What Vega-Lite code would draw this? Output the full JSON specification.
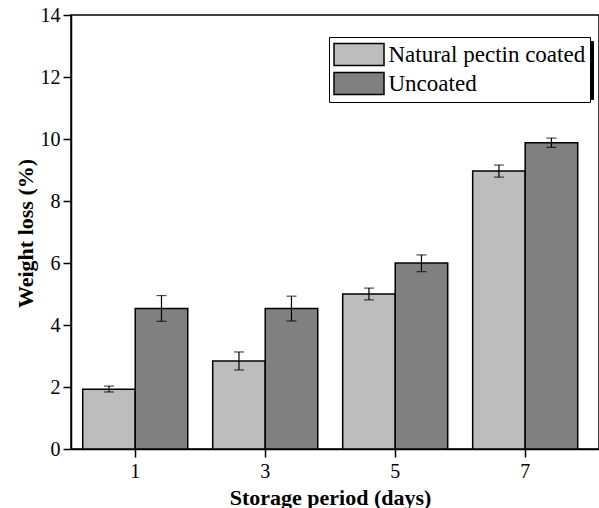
{
  "$schema": "https://vega.github.io/schema/vega-lite/v6.json",
  "autosize": "none",
  "padding": {"left": 71, "top": 15, "right": 0, "bottom": 59},
  "width": 528,
  "height": 434,
  "background": "white",
  "config": {
    "font": "Liberation Serif",
    "view": {"stroke": "black", "strokeWidth": 1.5},
    "axis": {"grid": false, "domainColor": "black", "domainWidth": 1.5, "tickColor": "black", "tickWidth": 1.5, "labelColor": "black", "titleColor": "black", "labelFont": "Liberation Serif", "titleFont": "Liberation Serif", "labelFontSize": 20, "titleFontSize": 22, "titleFontWeight": "bold"},
    "legend": {"labelFont": "Liberation Serif"}
  },
  "data": {"values": [
    {"day": "1", "group": "Natural pectin coated", "value": 1.93, "lo": 1.84, "hi": 2.03},
    {"day": "1", "group": "Uncoated", "value": 4.53, "lo": 4.12, "hi": 4.95},
    {"day": "3", "group": "Natural pectin coated", "value": 2.84, "lo": 2.55, "hi": 3.13},
    {"day": "3", "group": "Uncoated", "value": 4.53, "lo": 4.13, "hi": 4.93},
    {"day": "5", "group": "Natural pectin coated", "value": 5.0, "lo": 4.81, "hi": 5.19},
    {"day": "5", "group": "Uncoated", "value": 6.0, "lo": 5.72, "hi": 6.26},
    {"day": "7", "group": "Natural pectin coated", "value": 8.97, "lo": 8.77, "hi": 9.16},
    {"day": "7", "group": "Uncoated", "value": 9.88, "lo": 9.73, "hi": 10.03}
  ]},
  "encoding": {
    "x": {"field": "day", "type": "ordinal", "sort": ["1", "3", "5", "7"],
      "scale": {"paddingInner": 0.192, "paddingOuter": 0.127, "align": 0.355},
      "axis": {"title": "Storage period (days)", "labelAngle": 0, "tickSize": 8, "labelPadding": 4, "labelFont": "Liberation Serif", "titleX": 259, "titleY": 55, "titleBaseline": "alphabetic", "titleAnchor": null, "titleAlign": "center"}},
    "xOffset": {"field": "group", "type": "nominal", "sort": ["Natural pectin coated", "Uncoated"], "scale": {"paddingInner": 0, "paddingOuter": 0}}
  },
  "layer": [
    {
      "mark": {"type": "bar", "stroke": "black", "strokeWidth": 1.5},
      "encoding": {
        "y": {"field": "value", "type": "quantitative", "scale": {"domain": [0, 14], "nice": false},
          "axis": {"title": "Weight loss (%)", "values": [0,1,2,3,4,5,6,7,8,9,10,11,12,13,14],
            "labelExpr": "datum.value % 2 === 0 ? datum.label : ''", "labelFont": "Liberation Serif",
            "tickSize": {"condition": {"test": "datum.value % 2 === 0", "value": 8}, "value": 4},
            "labelPadding": 3, "titleFontSize": 22, "titleX": -39, "titleY": 218, "titleBaseline": "alphabetic", "titleAngle": 270, "titleAlign": "center"}},
        "fill": {"field": "group", "type": "nominal", "sort": ["Natural pectin coated", "Uncoated"],
          "scale": {"range": ["#bdbdbd", "#808080"]},
          "legend": {"title": null, "orient": "none", "legendX": 258, "legendY": 22, "zindex": 2,
            "strokeColor": "black", "fillColor": "white", "padding": 4,
            "symbolType": "M-2,-0.88h4v1.76h-4Z", "symbolSize": 625, "symbolOffset": 12.5, "symbolStrokeColor": "black", "symbolStrokeWidth": 1.5, "symbolOpacity": 1,
            "labelFont": "Liberation Serif", "labelFontSize": 23, "labelColor": "black", "labelOffset": 16, "rowPadding": 0, "labelLimit": 400}}
      }
    },
    {
      "mark": {"type": "rule", "color": "black", "strokeWidth": 1.2},
      "encoding": {"y": {"field": "lo", "type": "quantitative"}, "y2": {"field": "hi"},
        "strokeDash": {"field": "group", "type": "nominal",
          "scale": {"domain": ["Uncoated", "Natural pectin coated"], "range": [[1, 0], [1, 0]]},
          "legend": {"title": null, "orient": "none", "legendX": 262, "legendY": 26, "zindex": 1,
            "strokeColor": "black", "fillColor": "black", "padding": 4,
            "symbolType": "M-2,-0.88h4v1.76h-4Z", "symbolSize": 625, "symbolOffset": 12.5, "symbolOpacity": 0,
            "labelExpr": "'.'", "labelOpacity": 0,
            "labelFont": "Liberation Serif", "labelFontSize": 6, "labelOffset": 211, "rowPadding": 0, "labelLimit": 400}}}
    },
    {
      "mark": {"type": "tick", "color": "black", "size": 10, "thickness": 1.2, "orient": "horizontal"},
      "encoding": {"y": {"field": "lo", "type": "quantitative"}}
    },
    {
      "mark": {"type": "tick", "color": "black", "size": 10, "thickness": 1.2, "orient": "horizontal"},
      "encoding": {"y": {"field": "hi", "type": "quantitative"}}
    }
  ]
}
